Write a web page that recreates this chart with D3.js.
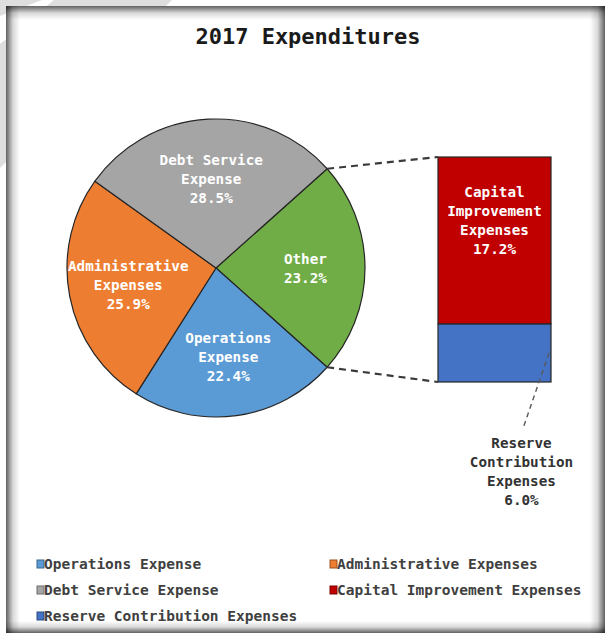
<!DOCTYPE html>
<html>
<head>
<meta charset="utf-8">
<script src="https://cdn.jsdelivr.net/npm/d3@7/dist/d3.min.js"></script>
<style>
  html, body { margin: 0; padding: 0; background: #ffffff; }
  svg { display: block; }
</style>
</head>
<body>
<svg id="chart" width="606" height="634"></svg>
<script>
// 2017 expenditures: pie of the main categories, with "Other" broken out in a stacked bar
const pieCategories = ["Operations Expense", "Administrative Expenses", "Debt Service Expense"];
const pieValues = [22.4, 25.9, 28.5];
const barCategories = ["Capital Improvement Expenses", "Reserve Contribution Expenses"];
const barValues = [17.2, 6.0];
const legendOrder = ["Operations Expense", "Administrative Expenses", "Debt Service Expense",
                     "Capital Improvement Expenses", "Reserve Contribution Expenses"];

const colors = {
  "Operations Expense": "#5b9bd5",
  "Administrative Expenses": "#ed7d31",
  "Debt Service Expense": "#a5a5a5",
  "Other": "#70ad47",
  "Capital Improvement Expenses": "#c00000",
  "Reserve Contribution Expenses": "#4472c4"
};

const FONT = "'DejaVu Sans Mono', 'Liberation Mono', monospace";
const svg = d3.select("#chart");
const W = 606, H = 634;

// ---------- page backdrop and framed chart area ----------
svg.append("polygon").attr("points", "0,0 172,0 0,168").attr("fill", "#dedede");
svg.append("polygon").attr("points", "42,0 54,0 0,44 0,16").attr("fill", "#ffffff");

const frame = { x: 6, y: 6, w: 599, h: 627 };
svg.append("rect").attr("x", frame.x).attr("y", frame.y)
  .attr("width", frame.w).attr("height", frame.h).attr("fill", "#ffffff");

const defs = svg.append("defs");
function edgeGradient(id, x1, y1, x2, y2) {
  const g = defs.append("linearGradient").attr("id", id)
    .attr("x1", x1).attr("y1", y1).attr("x2", x2).attr("y2", y2);
  [[0, 0.62], [0.18, 0.45], [0.5, 0.15], [1, 0]].forEach(([o, a]) =>
    g.append("stop").attr("offset", o).attr("stop-color", "#000").attr("stop-opacity", a));
}
edgeGradient("gL", 0, 0, 1, 0);
edgeGradient("gT", 0, 0, 0, 1);
edgeGradient("gR", 1, 0, 0, 0);
edgeGradient("gB", 0, 1, 0, 0);
const shade = svg.append("g");
shade.append("rect").attr("x", frame.x).attr("y", frame.y).attr("width", 14).attr("height", frame.h).attr("fill", "url(#gL)");
shade.append("rect").attr("x", frame.x).attr("y", frame.y).attr("width", frame.w).attr("height", 14).attr("fill", "url(#gT)");
shade.append("rect").attr("x", frame.x + frame.w - 15).attr("y", frame.y).attr("width", 15).attr("height", frame.h).attr("fill", "url(#gR)");
shade.append("rect").attr("x", frame.x).attr("y", frame.y + frame.h - 12).attr("width", frame.w).attr("height", 12).attr("fill", "url(#gB)");

// ---------- title ----------
svg.append("text")
  .attr("x", 308).attr("y", 43.5)
  .attr("text-anchor", "middle")
  .attr("font-family", FONT).attr("font-weight", "bold").attr("font-size", 22)
  .attr("fill", "#1a1a1a")
  .text("2017 Expenditures");

// ---------- helpers ----------
const LABEL_SIZE = 14.3, LINE_H = 19;
function wrapWords(str, maxChars) {
  const words = str.split(" ");
  const lines = [];
  let cur = "";
  words.forEach(w => {
    const next = cur ? cur + " " + w : w;
    if (next.length > maxChars && cur) { lines.push(cur); cur = w; }
    else cur = next;
  });
  if (cur) lines.push(cur);
  return lines;
}
function multiLine(g, lines, cx, cy, fill) {
  const t = g.append("text")
    .attr("text-anchor", "middle")
    .attr("font-family", FONT).attr("font-weight", "bold").attr("font-size", LABEL_SIZE)
    .attr("fill", fill);
  const first = cy - (lines.length - 1) / 2 * LINE_H + LABEL_SIZE * 0.36;
  lines.forEach((ln, i) => {
    t.append("tspan").attr("x", cx).attr("y", first + i * LINE_H).text(ln);
  });
}
const pct = v => d3.format(".1f")(v) + "%";

// ---------- pie ----------
const otherValue = d3.sum(barValues);
const pieData = [{ name: "Other", value: otherValue }]
  .concat(pieCategories.map((c, i) => ({ name: c, value: pieValues[i] })));
const total = d3.sum(pieData, d => d.value);

const cx = 216, cy = 268, R = 149;
// "Other" is centred on the right-hand side, facing the bar
const startA = Math.PI / 2 - (otherValue / total) * Math.PI;
const pie = d3.pie().sort(null).value(d => d.value)
  .startAngle(startA).endAngle(startA + 2 * Math.PI);
const arcs = pie(pieData);
const arc = d3.arc().innerRadius(0).outerRadius(R);
const labelArc = d3.arc().innerRadius(R * 0.6).outerRadius(R * 0.6);

const gPie = svg.append("g").attr("transform", `translate(${cx},${cy})`);
gPie.selectAll("path.slice").data(arcs).enter().append("path")
  .attr("class", "slice")
  .attr("d", arc)
  .attr("fill", d => colors[d.data.name])
  .attr("stroke", "#262626").attr("stroke-width", 1.2)
  .attr("stroke-linejoin", "round");

arcs.forEach(d => {
  const [lx, ly] = labelArc.centroid(d);
  multiLine(gPie, wrapWords(d.data.name, 14).concat([pct(d.data.value)]), lx, ly, "#ffffff");
});

// ---------- stacked bar for "Other" ----------
const bar = { x0: 438, x1: 551, top: 157, bottom: 382 };
const y = d3.scaleLinear().domain([0, otherValue]).range([bar.bottom, bar.top]);
// stack from the bottom: reserve first, capital on top
const stackOrder = [1, 0];
let acc = 0;
const segs = stackOrder.map(i => {
  const s = { name: barCategories[i], value: barValues[i], y0: acc, y1: acc + barValues[i] };
  acc += barValues[i];
  return s;
});
const gBar = svg.append("g");
gBar.selectAll("rect.seg").data(segs).enter().append("rect")
  .attr("class", "seg")
  .attr("x", bar.x0).attr("width", bar.x1 - bar.x0)
  .attr("y", d => y(d.y1)).attr("height", d => y(d.y0) - y(d.y1))
  .attr("fill", d => colors[d.name])
  .attr("stroke", "#262626").attr("stroke-width", 1.2);

// connector lines from the "Other" slice edges to the bar corners
const otherArc = arcs[0];
const edgePt = a => [cx + R * Math.sin(a), cy - R * Math.cos(a)];
const pTop = edgePt(otherArc.startAngle), pBot = edgePt(otherArc.endAngle);
[[pTop, [bar.x0, y(otherValue)]], [pBot, [bar.x0, y(0)]]].forEach(([a, b]) => {
  svg.append("line")
    .attr("x1", a[0]).attr("y1", a[1]).attr("x2", b[0]).attr("y2", b[1])
    .attr("stroke", "#3a3a3a").attr("stroke-width", 2.2)
    .attr("stroke-dasharray", "7,5");
});

// bar labels
const barMid = (bar.x0 + bar.x1) / 2;
const capital = segs.find(s => s.name === barCategories[0]);
multiLine(gBar, wrapWords(capital.name, 14).concat([pct(capital.value)]),
  barMid, (y(capital.y1) + y(capital.y0)) / 2 - 20, "#ffffff");

const reserve = segs.find(s => s.name === barCategories[1]);
const resLabel = { x: barMid + 27, y: bar.bottom + 89 };
svg.append("line")
  .attr("x1", bar.x1 - 2).attr("y1", (y(reserve.y0) + y(reserve.y1)) / 2)
  .attr("x2", resLabel.x + 2).attr("y2", resLabel.y - 44)
  .attr("stroke", "#595959").attr("stroke-width", 1.4)
  .attr("stroke-dasharray", "5,4");
multiLine(svg, wrapWords(reserve.name, 14).concat([pct(reserve.value)]),
  resLabel.x, resLabel.y, "#333333");

// ---------- legend ----------
const legCols = [37, 330], legRows = [564, 590, 616];
const gLeg = svg.append("g");
legendOrder.forEach((name, i) => {
  const lx = legCols[i % 2], ly = legRows[Math.floor(i / 2)];
  gLeg.append("rect")
    .attr("x", lx).attr("y", ly - 4).attr("width", 7).attr("height", 8)
    .attr("fill", colors[name])
    .attr("stroke", d3.color(colors[name]).darker(1.2)).attr("stroke-width", 1);
  gLeg.append("text")
    .attr("x", lx + 7).attr("y", ly + 5)
    .attr("font-family", FONT).attr("font-weight", "bold").attr("font-size", 14.5)
    .attr("fill", "#404040")
    .text(name);
});
</script>
</body>
</html>
